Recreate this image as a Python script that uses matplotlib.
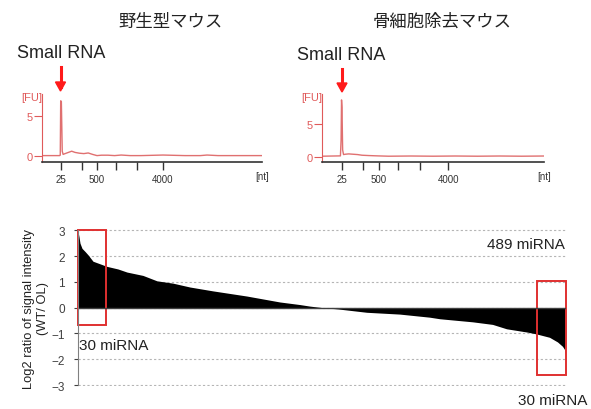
import matplotlib.pyplot as plt
from matplotlib.patches import Rectangle

plt.rcParams['font.family'] = ['Liberation Sans', 'Noto Sans CJK JP', 'DejaVu Sans']

# electropherogram traces (x in run-time units 0-100, y in FU)
wt_time = [0, 8.0, 8.3, 8.5, 8.8, 9.2, 9.6, 10.5, 12, 13.5, 15, 17, 19, 21, 23, 25, 27, 30,
           33, 36, 40, 45, 55, 65, 72, 75, 80, 90, 100]
wt_fu = [0.05, 0.05, 0.1, 6.9, 6.8, 0.6, 0.2, 0.3, 0.45, 0.6, 0.45, 0.35, 0.3, 0.38, 0.2,
         0.05, 0.1, 0.1, 0.05, 0.12, 0.05, 0.05, 0.12, 0.05, 0.05, 0.12, 0.05, 0.05, 0.05]
wt_ticks = [8.6, 18.2, 25, 33.6, 43.2, 55]
wt_ticklabels = ['25', '', '500', '', '', '4000']

ko_time = [0, 8.3, 8.6, 8.8, 9.0, 9.3, 9.7, 10.5, 12, 14, 16, 18, 21, 25, 30, 40, 50, 60,
           70, 80, 90, 100]
ko_fu = [0.05, 0.1, 2.5, 8.6, 7.5, 1.0, 0.3, 0.35, 0.4, 0.35, 0.3, 0.2, 0.15, 0.1, 0.05,
         0.08, 0.05, 0.08, 0.05, 0.08, 0.05, 0.08]
ko_ticks = [9.0, 18.5, 25.7, 34.2, 44.1, 56.8]
ko_ticklabels = ['25', '', '500', '', '', '4000']

# sorted log2 ratio (WT/OL), read at selected ranks of 489 miRNA
rank = [0, 1, 2, 4, 7, 10, 15, 22, 29, 40, 49, 65, 79, 95, 112, 135, 169, 202, 222, 232,
        245, 260, 289, 322, 352, 362, 395, 415, 429, 450, 459, 472, 480, 485, 487, 488]
log2_ratio = [2.95, 2.75, 2.5, 2.3, 2.18, 2.05, 1.8, 1.7, 1.6, 1.5, 1.38, 1.25, 1.04, 0.95,
              0.8, 0.65, 0.45, 0.22, 0.12, 0.06, 0.0, -0.05, -0.18, -0.25, -0.37, -0.43,
              -0.55, -0.65, -0.82, -0.95, -1.02, -1.15, -1.33, -1.5, -1.62, -1.85]

red = '#e05a5a'
W, H = 591, 410
fig = plt.figure(figsize=(W / 100, H / 100), dpi=100)


def fx(px):
    return px / W


def fy(py):
    return 1 - py / H


def electro(left_px, right_px, t, fu, ticks, labels, ylim):
    ax = fig.add_axes([fx(left_px), fy(163), (right_px - left_px) / W, 68 / H])
    ax.plot(t, fu, color='#e07070', lw=1.0)
    ax.set_xlim(0, 100)
    ax.set_ylim(*ylim)
    for s in ['top', 'right']:
        ax.spines[s].set_visible(False)
    ax.spines['left'].set_color(red)
    ax.spines['bottom'].set_color('#333333')
    ax.spines['bottom'].set_linewidth(1.2)
    ax.set_yticks([0, 5])
    ax.tick_params(axis='y', colors=red, labelsize=8, length=6, pad=1)
    ax.set_xticks(ticks)
    ax.set_xticklabels(labels)
    ax.tick_params(axis='x', colors='#333333', labelsize=7, length=6, width=1, pad=3)
    ax.text(-0.04, 7.4 if ylim[1] < 9 else 9.0, '[FU]', color=red, fontsize=8,
            ha='right', va='center', transform=ax.transData, clip_on=False)
    ax.text(100, ylim[0] - (ylim[1] - ylim[0]) * 0.21, '[nt]', color='#333333',
            fontsize=7, ha='center', va='center', clip_on=False)
    return ax


electro(42, 262, wt_time, wt_fu, wt_ticks, wt_ticklabels, (-0.75, 7.75))
electro(322, 544, ko_time, ko_fu, ko_ticks, ko_ticklabels, (-0.83, 9.5))

fig.text(fx(170), fy(22), '野生型マウス', ha='center', va='center', fontsize=12.5,
         color='#222222')
fig.text(fx(442), fy(22), '骨細胞除去マウス', ha='center', va='center', fontsize=12.5,
         color='#222222')
fig.text(fx(17), fy(53), 'Small RNA', ha='left', va='center', fontsize=13, color='#222222')
fig.text(fx(297), fy(56), 'Small RNA', ha='left', va='center', fontsize=13, color='#222222')
for ax_x, y0, y1 in [(60.5, 68, 92), (342, 70, 93)]:
    fig.add_artist(plt.Line2D([fx(ax_x)] * 2, [fy(y0), fy(y1) + 0.01], color='#ff1a1a',
                              lw=2.2, transform=fig.transFigure))
    fig.add_artist(plt.Polygon([[fx(ax_x - 5), fy(y1 - 9)], [fx(ax_x + 5), fy(y1 - 9)],
                                [fx(ax_x), fy(y1)]], closed=True, color='#ff1a1a',
                               transform=fig.transFigure))

# bottom chart
bx = fig.add_axes([fx(77.5), fy(387.3), 488.5 / W, 157.3 / H])
bx.fill_between(rank, log2_ratio, 0, color='black', lw=0)
bx.axhline(0, color='#404040', lw=1)
bx.set_xlim(-0.5, 488.5)
bx.set_ylim(-3.05, 3.05)
bx.set_yticks([3, 2, 1, 0, -1, -2, -3])
bx.yaxis.grid(True, color='#b5b5b5', ls=(0, (2, 2)), lw=0.8)
bx.set_axisbelow(True)
for s in ['top', 'right', 'bottom']:
    bx.spines[s].set_visible(False)
bx.spines['left'].set_color('#808080')
bx.spines['left'].set_bounds(-3, 3)
bx.set_xticks([])
bx.tick_params(axis='y', colors='#404040', labelsize=8.5, length=3, pad=6)
bx.set_ylabel('Log2 ratio of signal intensity\n(WT/ OL)', fontsize=9.3, color='#222222',
              labelpad=2, linespacing=1.15)

bx.add_patch(Rectangle((-0.5, -0.69), 29, 3.69, fill=False, ec='#e03030', lw=1.4,
                       clip_on=False))
bx.add_patch(Rectangle((459, -2.62), 29, 3.66, fill=False, ec='#e03030', lw=1.4,
                       clip_on=False))
bx.text(487, 2.46, '489 miRNA', ha='right', va='center', fontsize=11, color='#222222')
bx.text(1, -1.46, '30 miRNA', ha='left', va='center', fontsize=11, color='#222222')
bx.text(440, -3.58, '30 miRNA', ha='left', va='center', fontsize=11, color='#222222',
        clip_on=False)

fig.savefig('out.png', dpi=100)
